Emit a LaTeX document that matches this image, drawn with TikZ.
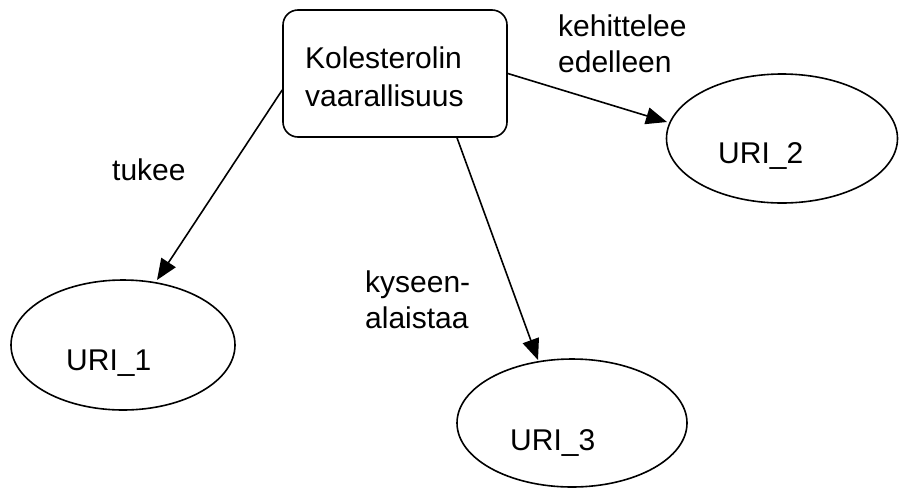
\documentclass[tikz,border=0pt]{standalone}
\usepackage{fontspec}
\setmainfont{Liberation Sans}
\usetikzlibrary{shapes.geometric,arrows.meta,calc}
\begin{document}
\begin{tikzpicture}[x=1pt,y=-1pt,
  every node/.style={font=\fontsize{30}{36}\selectfont},
  conceptbox/.style={draw,line width=1.6pt,rounded corners=15pt,minimum width=224pt,minimum height=127pt,inner sep=0pt},
  uriell/.style={draw,ellipse,line width=1.6pt,inner sep=0pt},
  txt/.style={inner sep=0pt,anchor=base west,align=left},
  arr/.style={line width=1.6pt,-{Triangle[length=21pt,width=17pt]}}]
\useasboundingbox (0,0) rectangle (899,488);
\node[conceptbox] (box) at (395,73.5) {};
\node[txt] (bt1) at (305,68) {Kolesterolin};
\node[txt] (bt2) at (305,106) {vaarallisuus};
\node[uriell,minimum width=224pt,minimum height=130pt] (u1) at (123,345) {};
\node[uriell,minimum width=231pt,minimum height=129pt] (u2) at (782,138.5) {};
\node[uriell,minimum width=230pt,minimum height=128pt] (u3) at (572,423) {};
\node[txt] (u1t) at (66,370) {URI\_1};
\node[txt] (u2t) at (718,163) {URI\_2};
\node[txt] (u3t) at (510,450) {URI\_3};
\node[txt] (l1) at (112,180) {tukee};
\node[txt] (l2) at (558,72) {kehittelee\\edelleen};
\node[txt] (l3) at (365,328) {kyseen-\\alaistaa};
\draw[arr] ($(box.west)+(0,16.5)$) -- ($(u1.center)+(34,-65)$);
\draw[arr] (box.east) -- ($(u2.center)+(-115,-16.5)$);
\draw[arr] ($(box.south)+(62,0)$) -- ($(u3.center)+(-34,-63)$);
\end{tikzpicture}
\end{document}
